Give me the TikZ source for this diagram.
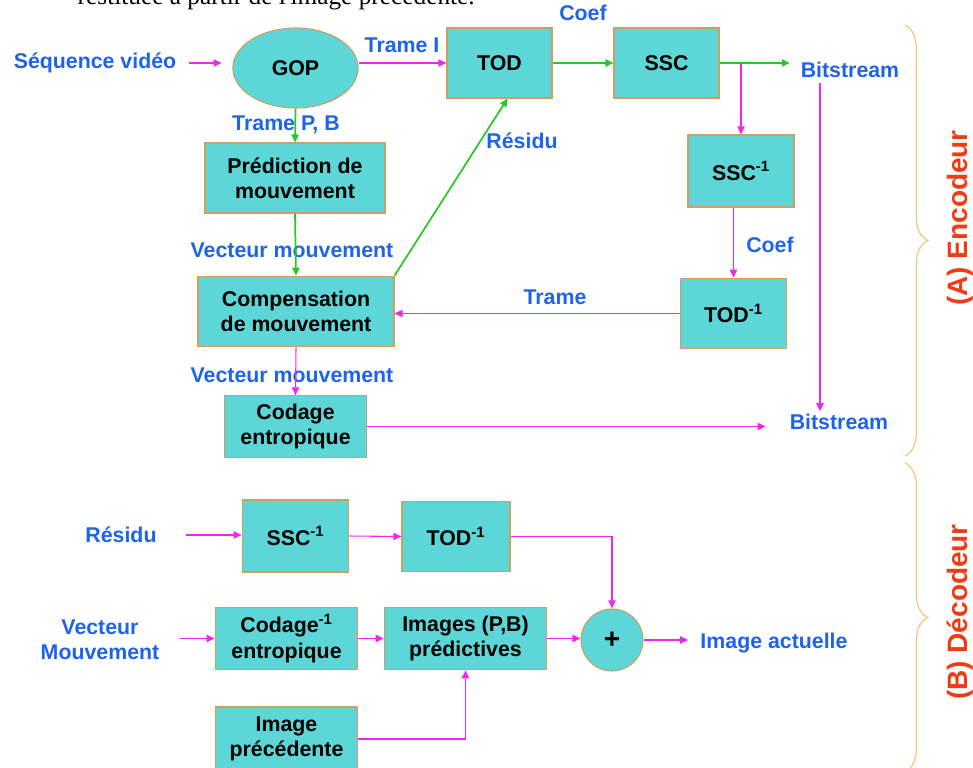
\documentclass[tikz,border=0pt]{standalone}
\usepackage{fontspec}
\setmainfont{Liberation Sans}
\newfontfamily\pagefont{Liberation Serif}
\usetikzlibrary{shapes.geometric, arrows.meta, positioning, calc, decorations.pathreplacing}

\definecolor{boxfill}{RGB}{92,214,214}
\definecolor{boxedge}{RGB}{205,160,95}
\definecolor{magline}{RGB}{238,40,238}
\definecolor{greenline}{RGB}{40,200,40}
\definecolor{labelblue}{RGB}{30,100,235}
\definecolor{bracecol}{RGB}{248,195,120}
\definecolor{titlered}{RGB}{240,60,20}

\begin{document}
\begin{tikzpicture}[
    x=0.75pt, y=-0.75pt,
    blockelem/.style={draw=boxedge, fill=boxfill, line width=0.8pt, align=center, inner sep=0pt,
        font=\fontsize{16}{19}\selectfont\bfseries},
    flowlabel/.style={font=\fontsize{16}{19}\selectfont\bfseries, text=labelblue, align=center, inner sep=2pt},
    magarrow/.style={draw=magline, line width=0.8pt, -{Triangle[length=6pt,width=5.5pt]}},
    greenarrow/.style={draw=greenline, line width=1.3pt, -{Triangle[length=6pt,width=5.5pt]}},
    sidebrace/.style={draw=bracecol, line width=0.9pt, decorate, decoration={brace, amplitude=17pt}},
    sidetitle/.style={font=\fontsize{21}{25}\selectfont\bfseries, text=titlered, rotate=90}
]
    \useasboundingbox (0,0) rectangle (973,767);
    \clip (0,0) rectangle (973,767);

    % Page line above the figure
    \node[font=\pagefont\fontsize{19}{22}\selectfont, anchor=base east, inner sep=0pt] (pageline) at (475,5)
        {restituée à partir de l'image précédente.};

    % Encoder blocks
    \node[blockelem, shape=ellipse, minimum width=94pt, minimum height=60pt] (gop) at (295.5,68) {GOP};
    \node[blockelem, minimum width=78.75pt, minimum height=52.5pt] (tod) at (499.5,63) {TOD};
    \node[blockelem, minimum width=78.75pt, minimum height=52.5pt] (ssc) at (666.5,63) {SSC};
    \node[blockelem, minimum width=79.5pt, minimum height=54pt] (sscinv) at (741,171) {SSC\textsuperscript{-1}};
    \node[blockelem, minimum width=80pt, minimum height=53pt] (todinv) at (733.5,313.5) {TOD\textsuperscript{-1}};
    \node[blockelem, minimum width=135pt, minimum height=52.5pt] (predict) at (295,178) {Prédiction de\\mouvement};
    \node[blockelem, minimum width=147pt, minimum height=53pt] (comp) at (296,311.5) {Compensation\\de mouvement};
    \node[blockelem, minimum width=107pt, minimum height=46pt] (codage) at (295.5,426.5) {Codage\\entropique};

    % Encoder labels
    \node[flowlabel] (seq) at (95,63) {Séquence vidéo};
    \node[flowlabel] (tramei) at (402,45) {Trame I};
    \node[flowlabel] (coefa) at (583,13) {Coef};
    \node[flowlabel] (bitsa) at (850,70) {Bitstream};
    \node[flowlabel] (tramepb) at (286,125) {Trame P, B};
    \node[flowlabel] (vecta) at (292,250) {Vecteur mouvement};
    \node[flowlabel] (residua) at (522,141) {Résidu};
    \node[flowlabel] (coefb) at (770,245) {Coef};
    \node[flowlabel] (trame) at (555,297) {Trame};
    \node[flowlabel] (vectb) at (292,375) {Vecteur mouvement};
    \node[flowlabel] (bitsb) at (839,422) {Bitstream};
    \coordinate (bstop) at (820,83);

    % Encoder connectors
    \draw[magarrow, shorten <=7.5pt, shorten >=8pt] (seq.east) -- (seq.east -| gop.west);
    \draw[magarrow] (gop.east |- tod.west) -- (tod.west);
    \draw[greenarrow] (tod.east) -- (ssc.west);
    \draw[greenarrow, shorten >=6pt] (ssc.east) -- (ssc.east -| bitsa.west);
    \draw[magarrow] (ssc.east -| sscinv.north) -- (sscinv.north);
    \draw[magarrow] (bstop) -- (bstop |- bitsb.north);
    \draw[magarrow] (sscinv.south -| todinv.north) -- (todinv.north);
    \draw[magarrow] (todinv.west) -- (todinv.west -| comp.east);
    \draw[greenarrow] (gop.south) -- (predict.north);
    \draw[greenarrow] (predict.south) -- (comp.north);
    \draw[greenarrow] (comp.north east) -- ([xshift=6pt]tod.south);
    \draw[magarrow] (comp.south) -- (codage.north);
    \draw[magarrow, shorten >=16pt] (codage.east) -- (codage.east -| bitsb.west);

    % Decoder blocks
    \node[blockelem, minimum width=80pt, minimum height=54pt] (decssc) at (295.5,536) {SSC\textsuperscript{-1}};
    \node[blockelem, minimum width=81pt, minimum height=53pt] (dectod) at (456,536.5) {TOD\textsuperscript{-1}};
    \node[blockelem, minimum width=107pt, minimum height=47pt] (deccod) at (286.5,638.5) {Codage\textsuperscript{-1}\\entropique};
    \node[blockelem, minimum width=122pt, minimum height=47pt] (images) at (465.5,638.5) {Images (P,B)\\prédictives};
    \node[blockelem, minimum width=107pt, minimum height=48pt] (prev) at (286.5,739) {Image\\précédente};
    \node[blockelem, shape=circle, minimum size=46.5pt, font=\fontsize{21}{24}\selectfont\bfseries] (plus) at (612,640) {+};

    % Decoder labels
    \node[flowlabel] (residub) at (121,535) {Résidu};
    \node[flowlabel] (vectmv) at (100,640) {Vecteur\\Mouvement};
    \node[flowlabel] (imgact) at (774,643) {Image actuelle};

    % Decoder connectors
    \draw[magarrow, shorten <=20pt] (residub.east) -- (residub.east -| decssc.west);
    \draw[magarrow] (decssc.east) -- (dectod.west);
    \draw[magarrow] (dectod.east) -| (plus.north);
    \draw[magarrow, shorten <=13pt] (vectmv.east |- deccod.west) -- (deccod.west);
    \draw[magarrow] (deccod.east) -- (images.west);
    \draw[magarrow] (images.east) -- (images.east -| plus.west);
    \draw[magarrow, shorten >=7pt] (plus.east) -- (plus.east -| imgact.west);
    \draw[magarrow] (prev.east) -| (images.south);

    % Braces
    \coordinate (bracea) at (905,25);
    \coordinate (braceb) at (905,456);
    \coordinate (bracec) at (905,463);
    \coordinate (braced) at (905,772);
    \draw[sidebrace] (bracea) -- (braceb);
    \draw[sidebrace] (bracec) -- (braced);
    \node[sidetitle] (enc) at (960,218) {(A) Encodeur};
    \node[sidetitle] (dec) at (960,612) {(B) Décodeur};
\end{tikzpicture}
\end{document}
